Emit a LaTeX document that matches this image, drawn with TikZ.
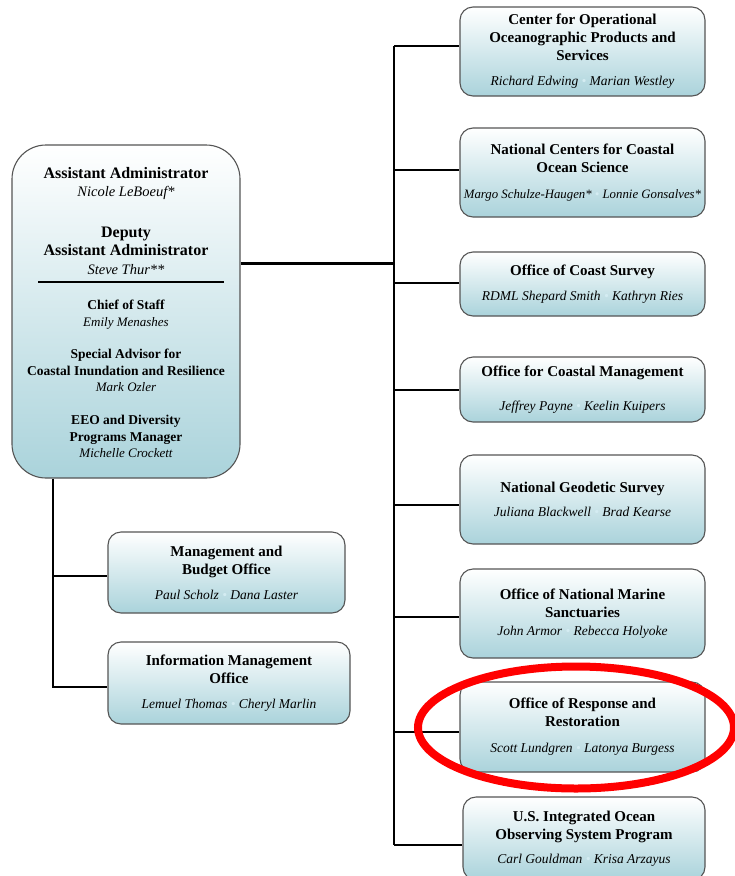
\documentclass[tikz,border=0pt]{standalone}
\usepackage{fontspec}
\setmainfont{Liberation Serif}
\usetikzlibrary{calc}
\definecolor{boxteal}{RGB}{170,211,219}
\definecolor{boxedge}{RGB}{85,85,85}
\definecolor{sepdot}{RGB}{212,236,242}
\newcommand{\sepdot}{~\textcolor{sepdot}{\textbullet}~}
\newcommand{\who}[2][13.5]{{\fontsize{#1}{16}\selectfont\mdseries\itshape #2}}
\begin{document}
\begin{tikzpicture}[x=1pt, y=-1pt, line width=2.4pt,
    unit/.style = {draw=boxedge, line width=1.1pt, rounded corners=13pt, top color=white, bottom color=boxteal,
      minimum width=245pt, inner sep=2pt, align=center, font=\fontsize{15}{18}\selectfont\bfseries},
    staff/.style = {inner sep=0pt, align=center, anchor=north, font=\fontsize{13.5}{16.5}\selectfont\bfseries}]
  \useasboundingbox (0,0) rectangle (735,876);
  % front office
  \node[unit, rounded corners=34pt, minimum width=228pt, minimum height=333pt] (aa) at (126,311.5) {};
  \node[staff, font=\fontsize{16}{18.5}\selectfont\bfseries] (aatitle) at (126,166) {Assistant Administrator\\
    \who[14.5]{Nicole LeBoeuf*}\\[22pt] Deputy\\ Assistant Administrator\\ \who[14.5]{Steve Thur**}};
  \draw[line width=1.1pt] ($(aa.center)+(-88,-29.5)$) -- ($(aa.center)+(98,-29.5)$);
  \node[staff] (cos) at (126,299) {Chief of Staff\\ \who[13]{Emily Menashes}};
  \node[staff] (advisor) at (126,348) {Special Advisor for\\ Coastal Inundation and Resilience\\ \who[13]{Mark Ozler}};
  \node[staff] (eeo) at (126,414) {EEO and Diversity\\ Programs Manager\\ \who[13]{Michelle Crockett}};
  % staff offices
  \node[unit, minimum width=237pt, minimum height=81pt] (mbo) at (226.5,572.5) {Management and\\ Budget Office\\[7pt] \who{Paul Scholz\sepdot Dana Laster}};
  \node[unit, minimum width=242pt, minimum height=82pt] (imo) at (229,683) {Information Management\\ Office\\[7pt] \who{Lemuel Thomas\sepdot Cheryl Marlin}};
  % line offices
  \node[unit, minimum height=89pt] (coops) at (582.5,51.5) {Center for Operational\\ Oceanographic Products and\\ Services\\[7pt] \who{Richard Edwing\sepdot Marian Westley}};
  \node[unit, minimum height=89pt] (nccos) at (582.5,172.5) {National Centers for Coastal\\ Ocean Science\\[8pt] \who[12.8]{Margo Schulze-Haugen*\sepdot Lonnie Gonsalves*}};
  \node[unit, minimum height=64pt] (ocs) at (582.5,284) {Office of Coast Survey\\[7pt] \who{RDML Shepard Smith\sepdot Kathryn Ries}};
  \node[unit, minimum height=65pt] (ocm) at (582.5,389.5) {Office for Coastal Management\\[16pt] \who{Jeffrey Payne\sepdot Keelin Kuipers}};
  \node[unit, minimum height=89pt] (ngs) at (582.5,499.5) {National Geodetic Survey\\[6pt] \who{Juliana Blackwell\sepdot Brad Kearse}};
  \node[unit, minimum height=89pt] (onms) at (582.5,613.5) {Office of National Marine\\ Sanctuaries\\ \who{John Armor\sepdot Rebecca Holyoke}};
  \node[unit, minimum height=90pt] (orr) at (582.5,727) {Office of Response and\\ Restoration\\[8pt] \who{Scott Lundgren\sepdot Latonya Burgess}};
  \node[unit, minimum width=242pt, minimum height=83pt] (ioos) at (584,838.5) {U.S. Integrated Ocean\\ Observing System Program\\[6pt] \who{Carl Gouldman\sepdot Krisa Arzayus}};
  % connectors
  \coordinate (trunk) at (394,0);
  \coordinate (spine) at (53,0);
  \draw[-] ([yshift=48pt]aa.east) -- ([yshift=48pt]aa.east -| trunk);
  \draw[-] ([yshift=5.5pt]coops.west -| trunk) -- ([yshift=-6.5pt]ioos.west -| trunk);
  \foreach \o/\dy in {coops/5.5,nccos/2.5,ocs/1,ocm/-0.5,ngs/-5.5,onms/-3.5,orr/-5,ioos/-6.5}
    \draw[-] ([yshift=\dy pt]\o.west -| trunk) -- ([yshift=\dy pt]\o.west);
  \draw[-] (aa.south -| spine) -- ([yshift=-4pt]imo.west -| spine) -- ([yshift=-4pt]imo.west);
  \draw[-] ([yshift=-3.5pt]mbo.west -| spine) -- ([yshift=-3.5pt]mbo.west);
  % highlight
  \draw[red, line width=8pt] (576,727.5) ellipse [x radius=158, y radius=61];
\end{tikzpicture}
\end{document}
